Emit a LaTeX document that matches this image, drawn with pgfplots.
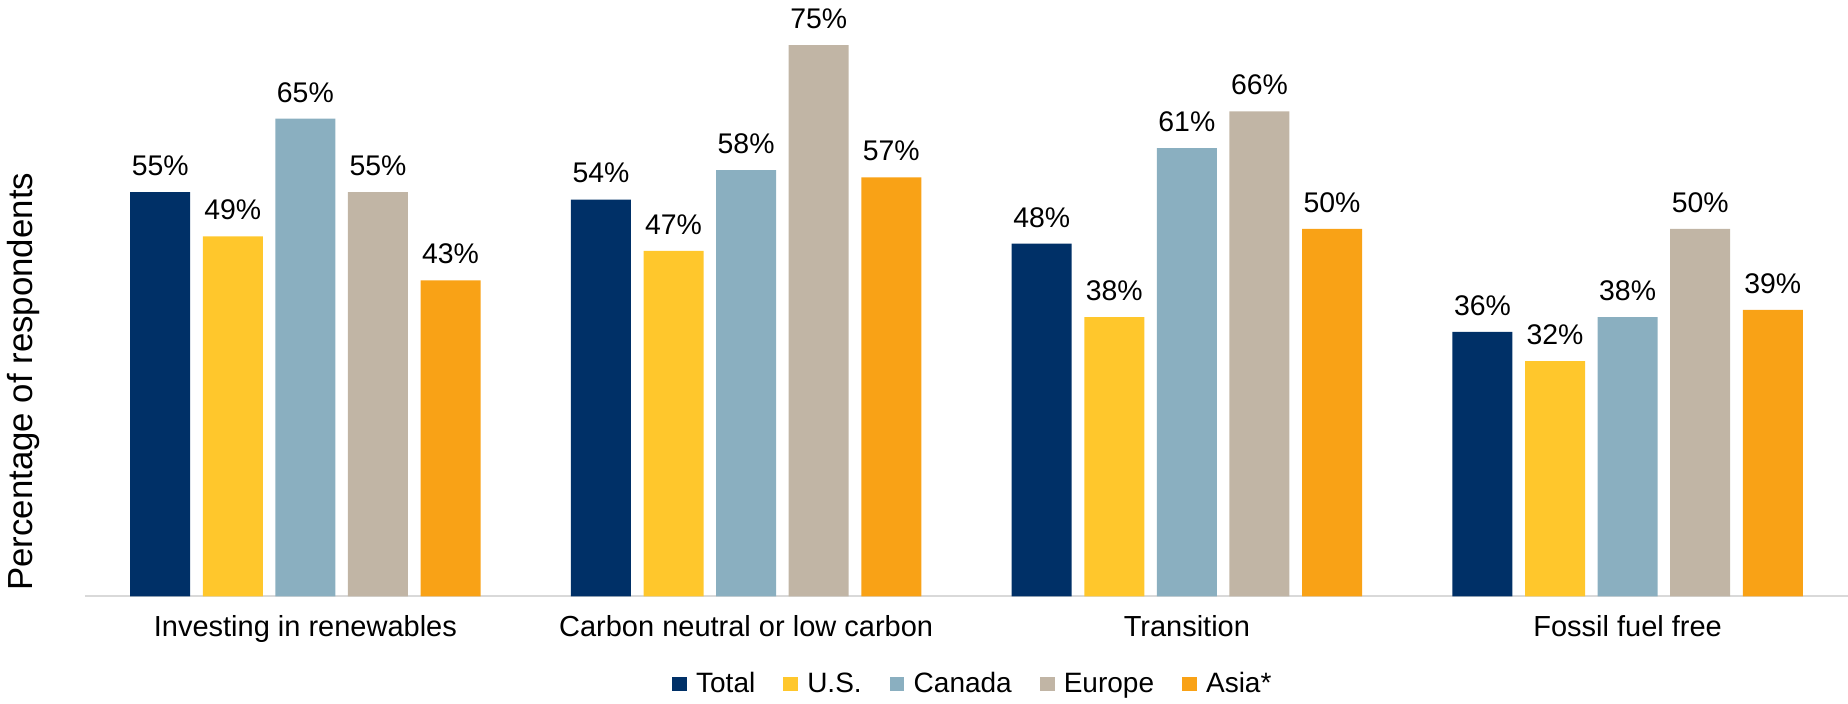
\documentclass[border=0pt]{standalone}
\usepackage{pgfplots}
\pgfplotsset{compat=1.18}
\usepackage{fontspec}
\setmainfont{Liberation Sans}
\definecolor{cTotal}{HTML}{003067}
\definecolor{cUS}{HTML}{FFC72C}
\definecolor{cCanada}{HTML}{8AAFC0}
\definecolor{cEurope}{HTML}{C1B5A5}
\definecolor{cAsia}{HTML}{F9A216}
\begin{document}
\begin{tikzpicture}
\begin{axis}[
  at={(0,0)}, anchor=south west,
  width=881.5pt, height=294pt, scale only axis,
  /pgf/number format/assume math mode=true,
  ybar=6.3pt, bar width=30pt,
  xmin=-0.5, xmax=3.5, ymin=0, ymax=80,
  enlarge x limits=false,
  axis lines*=left,
  y axis line style={draw=none},
  x axis line style={draw=black!15, line width=1pt},
  ytick=\empty,
  xtick={0,1,2,3},
  xticklabels={Investing in renewables, Carbon neutral or low carbon, Transition, Fossil fuel free},
  major tick length=0pt,
  xticklabel style={anchor=base, yshift=-20pt, font=\fontsize{14.5}{17}\selectfont},
  ylabel={Percentage of respondents},
  ylabel style={at={(rel axis cs:-0.0295,0.365)}, anchor=base, font=\fontsize{17.4}{20}\selectfont},
  clip=false,
  nodes near coords={\pgfmathprintnumber{\pgfplotspointmeta}\%},
  nodes near coords style={anchor=base, yshift=8.3pt, font=\fontsize{14.2}{17}\selectfont, text=black},
  legend columns=5,
  legend style={at={(rel axis cs:0.503,-0.149)}, anchor=center, draw=none, fill=none,
    font=\fontsize{14}{16}\selectfont,
    nodes={inner sep=0pt},
    /tikz/every odd column/.append style={column sep=4.65pt},
    /tikz/every even column/.append style={column sep=14pt},
    inner sep=0pt},
  legend image code/.code={\fill[#1] (0pt,-3.675pt) rectangle (7.35pt,3.675pt);},
]
\addplot[fill=cTotal, draw=none] coordinates {(0,55) (1,54) (2,48) (3,36)};
\addplot[fill=cUS, draw=none] coordinates {(0,49) (1,47) (2,38) (3,32)};
\addplot[fill=cCanada, draw=none] coordinates {(0,65) (1,58) (2,61) (3,38)};
\addplot[fill=cEurope, draw=none] coordinates {(0,55) (1,75) (2,66) (3,50)};
\addplot[fill=cAsia, draw=none] coordinates {(0,43) (1,57) (2,50) (3,39)};
\legend{Total, U.S., Canada, Europe, Asia*}
\end{axis}
\pgfresetboundingbox
\path[use as bounding box] (-42.5pt,-53.3pt) rectangle (881.5pt,298.2pt);
\end{tikzpicture}
\end{document}
